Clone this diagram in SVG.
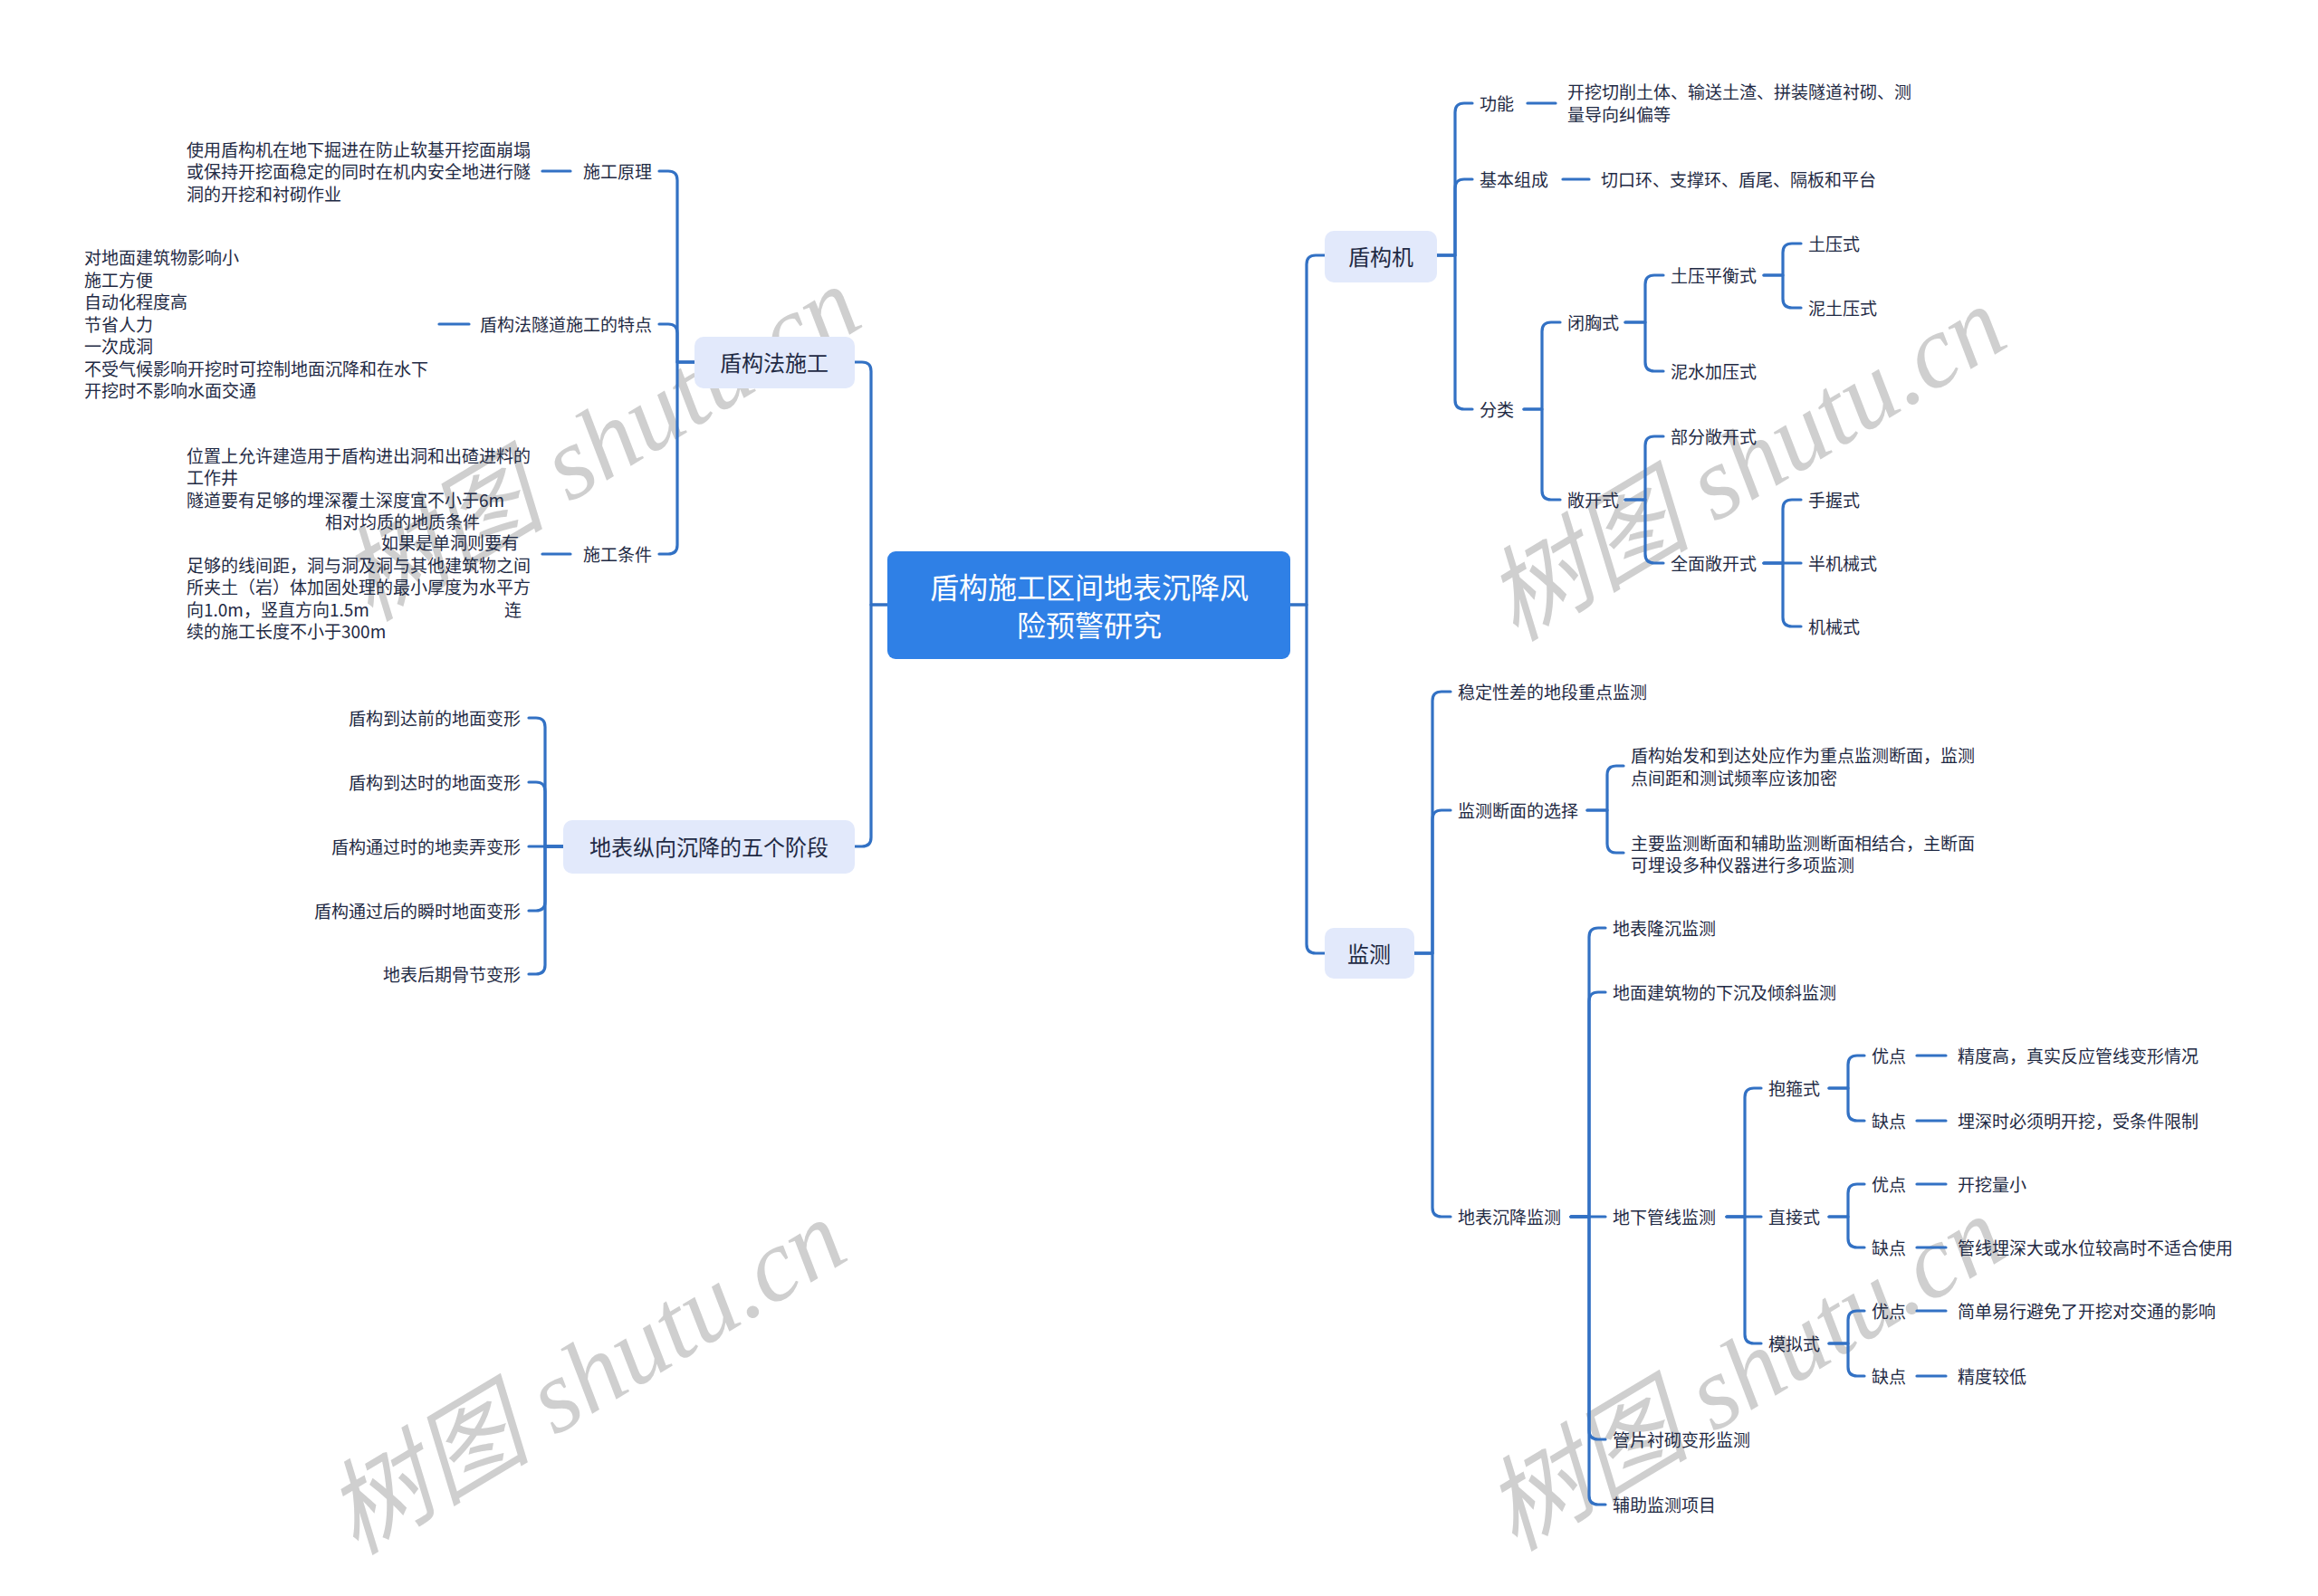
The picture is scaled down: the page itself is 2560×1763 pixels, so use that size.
<svg xmlns="http://www.w3.org/2000/svg" width="2560" height="1763" viewBox="0 0 2560 1763">
<style>
.t{font-family:"Noto Sans CJK SC","Noto Sans",sans-serif;font-size:19px;fill:#1f2a44;dominant-baseline:central}
.e{text-anchor:end}
.m{text-anchor:middle}
.t2{font-size:24px}
.rt{font-size:32px;fill:#ffffff}
.box{fill:#e2e9fb}
.root{fill:#2f80e6}
.c{fill:none;stroke:#3271c4;stroke-width:3.2;stroke-linecap:round;stroke-linejoin:round}
.wm{font-family:"Liberation Serif","Noto Sans CJK SC",serif;font-style:italic;font-size:114px;fill:#cfcfcf;text-anchor:middle;dominant-baseline:central}
</style>
<rect width="2560" height="1763" fill="#ffffff"/>
<g id="watermarks">
<text class="wm" transform="translate(663 490) rotate(-31)">树图 shutu.cn</text>
<text class="wm" transform="translate(1928 512) rotate(-31)">树图 shutu.cn</text>
<text class="wm" transform="translate(647 1521) rotate(-31)">树图 shutu.cn</text>
<text class="wm" transform="translate(1927 1517) rotate(-31)">树图 shutu.cn</text>
</g>
<g id="connectors" class="c">
<path d="M980 668 H962 V410 Q962 400 952 400 H944"/>
<path d="M980 668 H962 V925 Q962 935 952 935 H944"/>
<path d="M1425 668 H1443 V292 Q1443 282 1453 282 H1463"/>
<path d="M1425 668 H1443 V1043 Q1443 1053 1453 1053 H1463"/>
<path d="M767 400 H748 V199 Q748 189 738 189 H728"/>
<path d="M767 400 H748 V368 Q748 358 738 358 H728"/>
<path d="M767 400 H748 V602 Q748 612 738 612 H728"/>
<path d="M599 189 H630"/>
<path d="M485 358 H518"/>
<path d="M599 612 H630"/>
<path d="M622 935 H602 V803 Q602 793 592 793 H584"/>
<path d="M622 935 H602 V874 Q602 864 592 864 H584"/>
<path d="M622 935 H584"/>
<path d="M622 935 H602 V996 Q602 1006 592 1006 H584"/>
<path d="M622 935 H602 V1066 Q602 1076 592 1076 H584"/>
<path d="M1587 282 H1607 V124 Q1607 114 1617 114 H1626"/>
<path d="M1587 282 H1607 V208 Q1607 198 1617 198 H1626"/>
<path d="M1587 282 H1607 V442 Q1607 452 1617 452 H1626"/>
<path d="M1687 114 H1718"/>
<path d="M1726 198 H1755"/>
<path d="M1683 452 H1703 V366 Q1703 356 1713 356 H1723"/>
<path d="M1683 452 H1703 V542 Q1703 552 1713 552 H1723"/>
<path d="M1795 356 H1817 V314 Q1817 304 1827 304 H1837"/>
<path d="M1795 356 H1817 V400 Q1817 410 1827 410 H1837"/>
<path d="M1948 304 H1969 V279 Q1969 269 1979 269 H1989"/>
<path d="M1948 304 H1969 V330 Q1969 340 1979 340 H1989"/>
<path d="M1795 552 H1817 V492 Q1817 482 1827 482 H1837"/>
<path d="M1795 552 H1817 V612 Q1817 622 1827 622 H1837"/>
<path d="M1948 622 H1969 V562 Q1969 552 1979 552 H1989"/>
<path d="M1948 622 H1989"/>
<path d="M1948 622 H1969 V682 Q1969 692 1979 692 H1989"/>
<path d="M1562 1053 H1582 V774 Q1582 764 1592 764 H1602"/>
<path d="M1562 1053 H1582 V905 Q1582 895 1592 895 H1602"/>
<path d="M1562 1053 H1582 V1334 Q1582 1344 1592 1344 H1602"/>
<path d="M1753 895 H1775 V856 Q1775 846 1785 846 H1793"/>
<path d="M1753 895 H1775 V932 Q1775 942 1785 942 H1793"/>
<path d="M1735 1344 H1755 V1035 Q1755 1025 1765 1025 H1773"/>
<path d="M1735 1344 H1755 V1106 Q1755 1096 1765 1096 H1773"/>
<path d="M1735 1344 H1773"/>
<path d="M1735 1344 H1755 V1580 Q1755 1590 1765 1590 H1773"/>
<path d="M1735 1344 H1755 V1652 Q1755 1662 1765 1662 H1773"/>
<path d="M1907 1344 H1927 V1212 Q1927 1202 1937 1202 H1945"/>
<path d="M1907 1344 H1945"/>
<path d="M1907 1344 H1927 V1474 Q1927 1484 1937 1484 H1945"/>
<path d="M2020 1202 H2041 V1176 Q2041 1166 2051 1166 H2059"/>
<path d="M2020 1202 H2041 V1228 Q2041 1238 2051 1238 H2059"/>
<path d="M2020 1344 H2041 V1318 Q2041 1308 2051 1308 H2059"/>
<path d="M2020 1344 H2041 V1368 Q2041 1378 2051 1378 H2059"/>
<path d="M2020 1484 H2041 V1458 Q2041 1448 2051 1448 H2059"/>
<path d="M2020 1484 H2041 V1510 Q2041 1520 2051 1520 H2059"/>
<path d="M2117 1166 H2149"/>
<path d="M2117 1238 H2149"/>
<path d="M2117 1308 H2149"/>
<path d="M2117 1378 H2149"/>
<path d="M2117 1448 H2149"/>
<path d="M2117 1520 H2149"/>
</g>
<g id="root"><rect class="root" x="980" y="609" width="445" height="119" rx="9"/><text class="t rt m" x="1203" y="647">盾构施工区间地表沉降风</text><text class="t rt m" x="1203" y="689">险预警研究</text></g>
<g id="n-dgfsg"><rect class="box" x="767" y="372" width="177" height="57" rx="10"/><text class="t t2 m" x="855" y="399">盾构法施工</text></g>
<g id="n-sgyl"><text class="t e" x="720" y="188">施工原理</text></g>
<g id="n-sgyl-d"><text class="t" x="206" y="164">使用盾构机在地下掘进在防止软基开挖面崩塌</text><text class="t" x="206" y="188">或保持开挖面稳定的同时在机内安全地进行隧</text><text class="t" x="206" y="213">洞的开挖和衬砌作业</text></g>
<g id="n-td"><text class="t e" x="720" y="357">盾构法隧道施工的特点</text></g>
<g id="n-td-d"><text class="t" x="93" y="283">对地面建筑物影响小</text><text class="t" x="93" y="308">施工方便</text><text class="t" x="93" y="332">自动化程度高</text><text class="t" x="93" y="357">节省人力</text><text class="t" x="93" y="381">一次成洞</text><text class="t" x="93" y="406">不受气候影响开挖时可控制地面沉降和在水下</text><text class="t" x="93" y="430">开挖时不影响水面交通</text></g>
<g id="n-sgtj"><text class="t e" x="720" y="611">施工条件</text></g>
<g id="n-sgtj-d"><text class="t" x="206" y="502">位置上允许建造用于盾构进出洞和出碴进料的</text><text class="t" x="206" y="526">工作井</text><text class="t" x="206" y="551">隧道要有足够的埋深覆土深度宜不小于6m</text><text class="t" x="359" y="575">相对均质的地质条件</text><text class="t" x="421" y="598">如果是单洞则要有</text><text class="t" x="206" y="623">足够的线间距，洞与洞及洞与其他建筑物之间</text><text class="t" x="206" y="647">所夹土（岩）体加固处理的最小厚度为水平方</text><text class="t" x="206" y="672">向1.0m，竖直方向1.5m</text><text class="t" x="557" y="672">连</text><text class="t" x="206" y="696">续的施工长度不小于300m</text></g>
<g id="n-wgjd"><rect class="box" x="622" y="906" width="322" height="59" rx="10"/><text class="t t2 m" x="783" y="934">地表纵向沉降的五个阶段</text></g>
<g id="n-s1"><text class="t e" x="575" y="792">盾构到达前的地面变形</text></g>
<g id="n-s2"><text class="t e" x="575" y="863">盾构到达时的地面变形</text></g>
<g id="n-s3"><text class="t e" x="575" y="934">盾构通过时的地卖弄变形</text></g>
<g id="n-s4"><text class="t e" x="575" y="1005">盾构通过后的瞬时地面变形</text></g>
<g id="n-s5"><text class="t e" x="575" y="1075">地表后期骨节变形</text></g>
<g id="n-dgj"><rect class="box" x="1463" y="255" width="124" height="57" rx="10"/><text class="t t2 m" x="1525" y="282">盾构机</text></g>
<g id="n-gn"><text class="t" x="1634" y="113">功能</text></g>
<g id="n-gn-d"><text class="t" x="1731" y="100">开挖切削土体、输送土渣、拼装隧道衬砌、测</text><text class="t" x="1731" y="125">量导向纠偏等</text></g>
<g id="n-jbzc"><text class="t" x="1634" y="197">基本组成</text></g>
<g id="n-jbzc-d"><text class="t" x="1768" y="197">切口环、支撑环、盾尾、隔板和平台</text></g>
<g id="n-fl"><text class="t" x="1634" y="451">分类</text></g>
<g id="n-bxs"><text class="t" x="1731" y="355">闭胸式</text></g>
<g id="n-typhs"><text class="t" x="1845" y="303">土压平衡式</text></g>
<g id="n-tys"><text class="t" x="1997" y="268">土压式</text></g>
<g id="n-ntys"><text class="t" x="1997" y="339">泥土压式</text></g>
<g id="n-nsjys"><text class="t" x="1845" y="409">泥水加压式</text></g>
<g id="n-ckx"><text class="t" x="1731" y="551">敞开式</text></g>
<g id="n-bfckx"><text class="t" x="1845" y="481">部分敞开式</text></g>
<g id="n-qmckx"><text class="t" x="1845" y="621">全面敞开式</text></g>
<g id="n-sws"><text class="t" x="1997" y="551">手握式</text></g>
<g id="n-bjxs"><text class="t" x="1997" y="621">半机械式</text></g>
<g id="n-jxs"><text class="t" x="1997" y="691">机械式</text></g>
<g id="n-jc"><rect class="box" x="1463" y="1025" width="99" height="56" rx="10"/><text class="t t2 m" x="1512" y="1052">监测</text></g>
<g id="n-wdx"><text class="t" x="1610" y="763">稳定性差的地段重点监测</text></g>
<g id="n-jcdm"><text class="t" x="1610" y="894">监测断面的选择</text></g>
<g id="n-jcdm1"><text class="t" x="1801" y="833">盾构始发和到达处应作为重点监测断面，监测</text><text class="t" x="1801" y="858">点间距和测试频率应该加密</text></g>
<g id="n-jcdm2"><text class="t" x="1801" y="930">主要监测断面和辅助监测断面相结合，主断面</text><text class="t" x="1801" y="954">可埋设多种仪器进行多项监测</text></g>
<g id="n-dbcj"><text class="t" x="1610" y="1343">地表沉降监测</text></g>
<g id="n-dblc"><text class="t" x="1781" y="1024">地表隆沉监测</text></g>
<g id="n-dmjz"><text class="t" x="1781" y="1095">地面建筑物的下沉及倾斜监测</text></g>
<g id="n-dxgx"><text class="t" x="1781" y="1343">地下管线监测</text></g>
<g id="n-pps"><text class="t" x="1781" y="1589">管片衬砌变形监测</text></g>
<g id="n-fzjc"><text class="t" x="1781" y="1661">辅助监测项目</text></g>
<g id="n-bgs"><text class="t" x="1953" y="1201">抱箍式</text></g>
<g id="n-zjs"><text class="t" x="1953" y="1343">直接式</text></g>
<g id="n-mns"><text class="t" x="1953" y="1483">模拟式</text></g>
<g id="n-bgs-y"><text class="t" x="2067" y="1165">优点</text><text class="t" x="2162" y="1165">精度高，真实反应管线变形情况</text></g>
<g id="n-bgs-q"><text class="t" x="2067" y="1237">缺点</text><text class="t" x="2162" y="1237">埋深时必须明开挖，受条件限制</text></g>
<g id="n-zjs-y"><text class="t" x="2067" y="1307">优点</text><text class="t" x="2162" y="1307">开挖量小</text></g>
<g id="n-zjs-q"><text class="t" x="2067" y="1377">缺点</text><text class="t" x="2162" y="1377">管线埋深大或水位较高时不适合使用</text></g>
<g id="n-mns-y"><text class="t" x="2067" y="1447">优点</text><text class="t" x="2162" y="1447">简单易行避免了开挖对交通的影响</text></g>
<g id="n-mns-q"><text class="t" x="2067" y="1519">缺点</text><text class="t" x="2162" y="1519">精度较低</text></g>
</svg>
